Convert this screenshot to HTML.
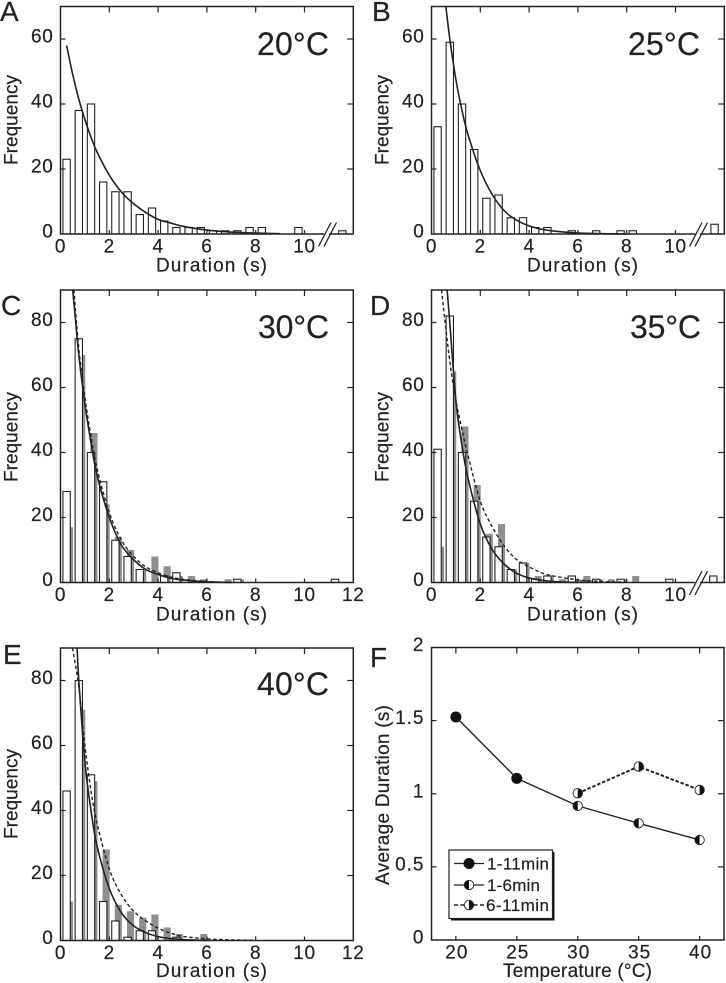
<!DOCTYPE html>
<html lang="en">
<head>
<meta charset="utf-8">
<title>Duration histograms by temperature</title>
<style>
html,body{margin:0;padding:0;background:#fff;width:726px;height:983px;overflow:hidden}
svg{display:block;font-family:"Liberation Sans",Arial,sans-serif;fill:#222;filter:blur(0.3px)}
text{fill:#222;stroke:#222;stroke-width:0.2px}
.tick{font-size:19px}
.title{font-size:19px}
.temp{font-size:32px}
.letter{font-size:28px}
.leg{font-size:17px}
</style>
</head>
<body>
<svg id="fig" xmlns="http://www.w3.org/2000/svg" width="726" height="983" viewBox="0 0 726 983">
  <g id="marks"></g>

  <text class="letter" x="0" y="21">A</text>
  <text class="letter" x="372" y="21">B</text>
  <text class="letter" x="1" y="315">C</text>
  <text class="letter" x="370" y="315">D</text>
  <text class="letter" x="3" y="664">E</text>
  <text class="letter" x="370" y="667">F</text>

  <text class="temp" x="257" y="55" textLength="72">20°C</text>
  <text class="temp" x="628" y="55" textLength="72">25°C</text>
  <text class="temp" x="258" y="338" textLength="71">30°C</text>
  <text class="temp" x="630" y="338" textLength="71">35°C</text>
  <text class="temp" x="257" y="695" textLength="72">40°C</text>

  <text class="title" x="156" y="271.5" textLength="111">Duration (s)</text>
  <text class="title" x="527" y="271.5" textLength="111">Duration (s)</text>
  <text class="title" x="156" y="620.5" textLength="111">Duration (s)</text>
  <text class="title" x="527" y="620.5" textLength="111">Duration (s)</text>
  <text class="title" x="156" y="977" textLength="111">Duration (s)</text>
  <text class="title" x="503" y="977" textLength="149">Temperature (°C)</text>

  <text class="title" transform="translate(17.5,165) rotate(-90)" textLength="90">Frequency</text>
  <text class="title" transform="translate(388.5,165) rotate(-90)" textLength="90">Frequency</text>
  <text class="title" transform="translate(17.5,482) rotate(-90)" textLength="90">Frequency</text>
  <text class="title" transform="translate(388.5,482) rotate(-90)" textLength="90">Frequency</text>
  <text class="title" transform="translate(17.5,839) rotate(-90)" textLength="90">Frequency</text>
  <text class="title" transform="translate(389,885) rotate(-90)" textLength="180">Average Duration (s)</text>

  <g id="legend">
    <rect x="451" y="852" width="103.5" height="68.5" fill="#111"/>
    <rect x="449" y="850" width="103.5" height="68.5" fill="#fff" stroke="#222" stroke-width="1.2"/>
    <line x1="454" x2="484" y1="863.5" y2="863.5" stroke="#222" stroke-width="1.3"/>
    <line x1="454" x2="484" y1="885" y2="885" stroke="#222" stroke-width="1.3"/>
    <line x1="454" x2="484" y1="905" y2="905" stroke="#222" stroke-width="1.6" stroke-dasharray="4 2.5"/>
    <circle cx="469" cy="863.5" r="5" fill="#111" stroke="#111"/>
    <g>
      <circle cx="469" cy="885" r="4.7" fill="#fff" stroke="#222" stroke-width="0.9"/>
      <path d="M469 880.3a4.7 4.7 0 0 0 0 9.4z" fill="#111"/>
    </g>
    <g>
      <circle cx="469" cy="905" r="4.7" fill="#fff" stroke="#222" stroke-width="0.9"/>
      <path d="M469 900.3a4.7 4.7 0 0 1 0 9.4z" fill="#111"/>
    </g>
    <text class="leg" x="487" y="869.5" textLength="62">1-11min</text>
    <text class="leg" x="487" y="891" textLength="53">1-6min</text>
    <text class="leg" x="486" y="911" textLength="63">6-11min</text>
  </g>
</svg>
<script>
// ---- Panel A (20 C) ----
const aWhiteBins = [0.25,0.75,1.25,1.75,2.25,2.75,3.25,3.75,4.25,4.75,5.25,5.75,6.25,6.75,7.25,7.75,8.25,9.75,11.55];
const aWhiteCounts = [23,38,40,16,13,13,6,8,4,2,2,2,1,1,1,2,2,2,1];
const aFitX = [0.25,0.5,0.75,1,1.25,1.5,2,2.5,3,3.5,4,4.5,5,6,7,8,9];
const aFitY = [58,49.1,41.5,35.2,29.8,25.2,18.1,12.9,9.3,6.6,4.5,3.4,2.4,1.2,0.6,0.3,0.1];

// ---- Panel B (25 C) ----
const bWhiteBins = [0.25,0.75,1.25,1.75,2.25,2.75,3.25,3.75,4.25,4.75,5.75,6.75,7.75,8.25,11.6];
const bWhiteCounts = [33,59,40,26,11,12,5,5,2,2,1,1,1,1,3];
const bFitX = [0.59,0.75,1,1.25,1.5,2,2.5,3,3.5,4,4.5,5,6,7,8];
const bFitY = [70,60,47.5,38,30.5,19.5,12,7,4.2,2.5,1.5,0.9,0.3,0.1,0];

// ---- Panel C (30 C) ----
const cWhiteBins = [0.25,0.75,1.25,1.75,2.25,2.75,3.25,4.25,4.75,7.25,11.25];
const cWhiteCounts = [28,75,40,31,13,8,4,2,3,1,1];
const cGrayBins = [0.37,0.87,1.37,1.87,2.37,2.87,3.37,3.87,4.37,4.87,5.37,5.87,6.87,7.37];
const cGrayCounts = [17,70,46,24,14,10,4,8,5,2,2,1,1,1];
const cFitX = [0.5,0.6,0.75,1,1.25,1.5,2,2.5,3,3.5,4,4.5,5,6,7];
const cFitY = [90,82,70,55,43,33,20,11.5,7,4,2.5,1.3,0.8,0.2,0];
const cDashX = [0.55,0.75,1,1.25,1.5,2,2.5,3,3.5,4,4.5,5,6,7];
const cDashY = [90,72,57,45,35,21.5,13,8,4.8,3,1.7,1,0.3,0];

// ---- Panel D (35 C) ----
const dWhiteBins = [0.25,0.75,1.25,1.75,2.25,2.75,3.25,3.75,4.25,4.75,5.75,6.25,6.75,7.75,9.75,11.55];
const dWhiteCounts = [41,82,40,25,14,11,4,6,1,2,2,0.5,1,1,1,2];
const dGrayBins = [0.37,0.87,1.37,1.87,2.37,2.87,3.37,3.87,4.37,4.87,5.37,5.87,6.37,6.87,7.37,7.87,8.37];
const dGrayCounts = [11,65,48,30,15,18,4,6,2,2,1,1,2,1,1,1,2];
const dFitX = [0.64,0.75,1,1.25,1.5,2,2.5,3,3.5,4,4.5,5,6];
const dFitY = [90,80,56,42,32,18,10,5.5,2.8,1.4,0.7,0.3,0];
const dDashX = [0.41,0.5,0.75,1,1.25,1.5,2,2.5,3,3.5,4,4.5,5,6,7,8];
const dDashY = [90,84,68,56,47,39,25,17,11,7,4.8,3,2,0.8,0.3,0.1];

// ---- Panel E (40 C) ----
const eWhiteBins = [0.25,0.75,1.25,1.75,2.25,2.75,3.25,3.75,4.75];
const eWhiteCounts = [46,80,51,12,6,1,3,3,1];
const eGrayBins = [0.37,0.87,1.37,1.87,2.37,2.87,3.37,3.87,4.37,4.87,5.87];
const eGrayCounts = [12,71,49,28,11,9,7,8,4,2,2];
const eFitX = [0.68,0.75,1,1.25,1.5,2,2.5,3,3.5,4,4.5,5,6];
const eFitY = [90,80,55,40,29,16,8.5,4.5,2.4,1.2,0.6,0.3,0];
const eDashX = [0.49,0.75,1,1.25,1.5,2,2.5,3,3.5,4,4.5,5,6,7,8];
const eDashY = [90,78,60,46,36,22,14,9,6,3.8,2.3,1.3,0.5,0.2,0.1];

// ---- Panel F (averages) ----
const fTemps = [20,25,30,35,40];
const fAllTemps = [20,25];
const fAllValues = [1.525,1.105];
const fEarlyTemps = [25,30,35,40];
const fEarlyValues = [1.105,0.917,0.798,0.684];
const fLateTemps = [30,35,40];
const fLateValues = [1.003,1.186,1.026];

// ---- Tick labels ----
const durationTicks = [0,2,4,6,8,10,12];
const freqTicksShort = [0,20,40,60];
const freqTicksTall = [0,20,40,60,80];
const avgTicks = [0,0.5,1,1.5,2];

const NS = 'http://www.w3.org/2000/svg';
const INK = '#222';
const marks = document.getElementById('marks');

function svgEl(tag, attrs, parent) {
  const n = document.createElementNS(NS, tag);
  for (const k in attrs) n.setAttribute(k, attrs[k]);
  (parent || marks).appendChild(n);
  return n;
}
function smoothPath(pts) {
  let d = 'M' + pts[0][0].toFixed(2) + ' ' + pts[0][1].toFixed(2);
  for (let i = 0; i < pts.length - 1; i++) {
    const p0 = pts[Math.max(0, i - 1)], p1 = pts[i], p2 = pts[i + 1], p3 = pts[Math.min(pts.length - 1, i + 2)];
    const c1x = p1[0] + (p2[0] - p0[0]) / 6, c1y = p1[1] + (p2[1] - p0[1]) / 6;
    const c2x = p2[0] - (p3[0] - p1[0]) / 6, c2y = p2[1] - (p3[1] - p1[1]) / 6;
    d += 'C' + c1x.toFixed(2) + ' ' + c1y.toFixed(2) + ' ' + c2x.toFixed(2) + ' ' + c2y.toFixed(2) + ' ' + p2[0].toFixed(2) + ' ' + p2[1].toFixed(2);
  }
  return d;
}

function drawHist(p) {
  const g = svgEl('g', {});
  
  
  const sx = v => p.left + v * 24.4;
  const sy = v => p.bottom - v * 3.25;
  const right = sx(12), top = sy(p.ymax);
  const barW = 0.3 * 24.4, grayW = 0.29 * 24.4;

  if (p.grayBins) {
    p.grayBins.forEach((b, i) => {
      const r = svgEl('rect', { x: sx(b) - grayW / 2, y: sy(p.grayCounts[i]), width: grayW, height: p.grayCounts[i] * 3.25, fill: '#8f8f8f' }, g);
      
      
    });
  }
  p.whiteBins.forEach((b, i) => {
    const r = svgEl('rect', { x: sx(b) - barW / 2, y: sy(p.whiteCounts[i]), width: barW, height: p.whiteCounts[i] * 3.25, fill: '#fff', 'fill-opacity': p.grayBins ? 0.96 : 1, stroke: INK, 'stroke-width': 1.1 }, g);
    
    
  });
  if (p.dashX) {
    const pts = p.dashX.map((x, i) => [sx(x), sy(p.dashY[i])]);
    const c = svgEl('path', { d: smoothPath(pts), fill: 'none', stroke: INK, 'stroke-width': 1.4, 'stroke-dasharray': '3.5 2.5' }, g);
    
    
  }
  const fitPts = p.fitX.map((x, i) => [sx(x), sy(p.fitY[i])]);
  const fit = svgEl('path', { d: smoothPath(fitPts), fill: 'none', stroke: INK, 'stroke-width': 1.6 }, g);
  
  

  const frame = svgEl('rect', { x: p.left, y: top, width: right - p.left, height: p.bottom - top, fill: 'none', stroke: INK, 'stroke-width': 1.5 }, g);
  
  

  const tl = p.xLabels;
  durationTicks.forEach(t => {
    const x = sx(t);
    if (t > 0 && t < 12) {
      const a = svgEl('line', { x1: x, x2: x, y1: top, y2: top + 6, stroke: INK, 'stroke-width': 1.2 }, g);
      
      
      const b = svgEl('line', { x1: x, x2: x, y1: p.bottom, y2: p.bottom - 4, stroke: INK, 'stroke-width': 1.2 }, g);
      
      
    }
    if (t === 12 && !tl) return;
    const lb = svgEl('text', { x: x, y: p.bottom + 18.5, 'text-anchor': 'middle', 'class': 'tick', 'letter-spacing': 0.7 }, g);
    
    
    lb.textContent = t;
  });
  p.yTicks.forEach(t => {
    const y = sy(t);
    if (t > 0) {
      const a = svgEl('line', { x1: p.left, x2: p.left + 5, y1: y, y2: y, stroke: INK, 'stroke-width': 1.2 }, g);
      
      
      const b = svgEl('line', { x1: right, x2: right - 6, y1: y, y2: y, stroke: INK, 'stroke-width': 1.2 }, g);
      
      
    }
    const lb = svgEl('text', { x: p.left - 7, y: y + 3.5, 'text-anchor': 'end', 'class': 'tick', 'letter-spacing': 0.7 }, g);
    
    
    lb.textContent = t;
  });
  if (p.axisBreak) {
    const bx = p.left + 258;
    const gap = svgEl('polygon', { points: [bx + 4, p.bottom + 3, bx + 9, p.bottom + 3, bx + 12, p.bottom - 3, bx + 7, p.bottom - 3].join(' '), fill: '#fff' }, g);
    
    
    const s1 = svgEl('line', { x1: bx, y1: p.bottom + 12.5, x2: bx + 12.5, y2: p.bottom - 11.5, stroke: INK, 'stroke-width': 1.3 }, g);
    
    
    const s2 = svgEl('line', { x1: bx + 5.5, y1: p.bottom + 12.5, x2: bx + 18, y2: p.bottom - 11.5, stroke: INK, 'stroke-width': 1.3 }, g);
    
    
  }
}

drawHist({ id: 'a', left: 60.5, bottom: 234, ymax: 70, yTicks: freqTicksShort, whiteBins: aWhiteBins, whiteCounts: aWhiteCounts, fitX: aFitX, fitY: aFitY, axisBreak: true, xLabels: false });
drawHist({ id: 'b', left: 431.5, bottom: 234, ymax: 70, yTicks: freqTicksShort, whiteBins: bWhiteBins, whiteCounts: bWhiteCounts, fitX: bFitX, fitY: bFitY, axisBreak: true, xLabels: false });
drawHist({ id: 'c', left: 60.5, bottom: 582.5, ymax: 90, yTicks: freqTicksTall, whiteBins: cWhiteBins, whiteCounts: cWhiteCounts, grayBins: cGrayBins, grayCounts: cGrayCounts, fitX: cFitX, fitY: cFitY, dashX: cDashX, dashY: cDashY, xLabels: true });
drawHist({ id: 'd', left: 431.5, bottom: 582.5, ymax: 90, yTicks: freqTicksTall, whiteBins: dWhiteBins, whiteCounts: dWhiteCounts, grayBins: dGrayBins, grayCounts: dGrayCounts, fitX: dFitX, fitY: dFitY, dashX: dDashX, dashY: dDashY, axisBreak: true, xLabels: false });
drawHist({ id: 'e', left: 60.5, bottom: 940.5, ymax: 90, yTicks: freqTicksTall, whiteBins: eWhiteBins, whiteCounts: eWhiteCounts, grayBins: eGrayBins, grayCounts: eGrayCounts, fitX: eFitX, fitY: eFitY, dashX: eDashX, dashY: eDashY, xLabels: true });

// Panel F
(function () {
  const left = 431.5, right = 724, top = 647.5, bottom = 940;
  const sx = t => left + (t - 18) * (right - left) / 24;
  const sy = v => bottom - v * (bottom - top) / 2;
  const g = svgEl('g', {});
  
  

  const frame = svgEl('rect', { x: left, y: top, width: right - left, height: bottom - top, fill: 'none', stroke: INK, 'stroke-width': 1.5 }, g);
  
  

  fTemps.forEach(t => {
    const x = sx(t);
    const a = svgEl('line', { x1: x, x2: x, y1: top, y2: top + 6, stroke: INK, 'stroke-width': 1.2 }, g);
    
    
    const b = svgEl('line', { x1: x, x2: x, y1: bottom, y2: bottom - 4, stroke: INK, 'stroke-width': 1.2 }, g);
    
    
    const lb = svgEl('text', { x: x + 1, y: bottom + 18.5, 'text-anchor': 'middle', 'class': 'tick', 'letter-spacing': 1 }, g);
    
    
    lb.textContent = t;
  });
  avgTicks.forEach(v => {
    const y = sy(v);
    if (v > 0 && v < 2) {
      const a = svgEl('line', { x1: left, x2: left + 5, y1: y, y2: y, stroke: INK, 'stroke-width': 1.2 }, g);
      
      
      const b = svgEl('line', { x1: right, x2: right - 6, y1: y, y2: y, stroke: INK, 'stroke-width': 1.2 }, g);
      
      
    }
    const lb = svgEl('text', { x: left - 7, y: y + 3.5, 'text-anchor': 'end', 'class': 'tick', 'letter-spacing': 1 }, g);
    
    
    lb.textContent = v;
  });

  const l1 = svgEl('polyline', { points: fAllTemps.map((t, i) => sx(t) + ',' + sy(fAllValues[i])).join(' '), fill: 'none', stroke: INK, 'stroke-width': 1.4 }, g);
  
  
  const l2 = svgEl('polyline', { points: fEarlyTemps.map((t, i) => sx(t) + ',' + sy(fEarlyValues[i])).join(' '), fill: 'none', stroke: INK, 'stroke-width': 1.4 }, g);
  
  
  const l3 = svgEl('polyline', { points: fLateTemps.map((t, i) => sx(t) + ',' + sy(fLateValues[i])).join(' '), fill: 'none', stroke: INK, 'stroke-width': 2, 'stroke-dasharray': '3.5 1.8' }, g);
  
  

  fAllTemps.forEach((t, i) => {
    const c = svgEl('circle', { cx: sx(t), cy: sy(fAllValues[i]), r: 5, fill: '#111', stroke: '#111' }, g);
    
    
  });
  function half(t, v, side, name) {
    const x = sx(t), y = sy(v), r = 4.7;
    const m = svgEl('g', {}, g);
    
    
    svgEl('circle', { cx: x, cy: y, r: r, fill: '#fff', stroke: INK, 'stroke-width': 0.9 }, m);
    svgEl('path', { d: 'M' + x + ' ' + (y - r) + 'a' + r + ' ' + r + ' 0 0 ' + side + ' 0 ' + (2 * r) + 'z', fill: '#111' }, m);
  }
  fEarlyTemps.forEach((t, i) => { if (t > 25) half(t, fEarlyValues[i], 0, 'point-1-6min'); });
  fLateTemps.forEach((t, i) => half(t, fLateValues[i], 1, 'point-6-11min'));
})();
</script>
</body>
</html>
